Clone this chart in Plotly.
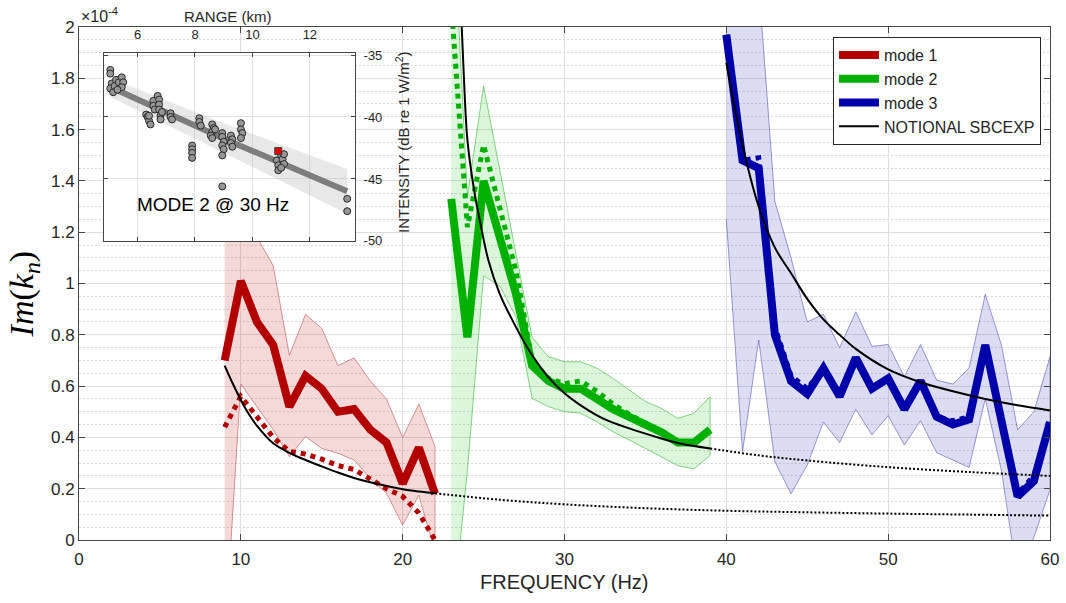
import plotly.graph_objects as go

# ---------------- main chart data ----------------
freq1 = list(range(9, 23))
mode1 = [0.70, 1.01, 0.85, 0.76, 0.52, 0.64, 0.59, 0.50, 0.51, 0.43, 0.38, 0.22, 0.36, 0.18]
mode1_dot = [0.44, 0.56, 0.48, 0.40, 0.345, 0.335, 0.315, 0.29, 0.275, 0.235, 0.20, 0.17, 0.105, 0.0]
mode1_hi = [1.45, 1.35, 1.18, 1.07, 0.72, 0.88, 0.825, 0.68, 0.71, 0.62, 0.55, 0.40, 0.53, 0.364]
mode1_lo = [-0.4, 0.608, 0.52, 0.43, 0.325, 0.403, 0.357, 0.338, 0.312, 0.24, 0.182, 0.058, 0.175, -0.05]

freq2 = list(range(23, 40))
mode2 = [1.33, 0.79, 1.40, 1.18, 0.96, 0.68, 0.62, 0.59, 0.59, 0.55, 0.51, 0.48, 0.45, 0.42, 0.38, 0.38, 0.43]
mode2_dot = [2.09, 1.22, 1.54, 1.30, 1.05, 0.70, 0.63, 0.61, 0.62, 0.58, 0.53, 0.49, 0.455, 0.42, 0.385, 0.38, 0.43]
mode2_hi = [2.6, 1.34, 1.77, 1.44, 1.12, 0.79, 0.715, 0.695, 0.695, 0.67, 0.63, 0.585, 0.54, 0.513, 0.474, 0.494, 0.559]
mode2_lo = [-0.35, 0.27, 1.03, 0.99, 0.87, 0.552, 0.52, 0.50, 0.494, 0.461, 0.422, 0.39, 0.357, 0.325, 0.29, 0.277, 0.33]

freq3 = list(range(40, 61))
mode3 = [1.97, 1.48, 1.45, 0.80, 0.62, 0.57, 0.67, 0.56, 0.71, 0.59, 0.63, 0.51, 0.62, 0.48, 0.45, 0.47, 0.76, 0.46, 0.17, 0.23, 0.46]
mode3_dot = [1.97, 1.48, 1.49, 0.83, 0.64, 0.59, 0.67, 0.56, 0.71, 0.59, 0.63, 0.51, 0.62, 0.48, 0.465, 0.48, 0.76, 0.46, 0.18, 0.25, 0.46]
mode3_hi = [2.6, 2.5, 2.17, 1.32, 1.1, 0.85, 0.88, 0.75, 0.89, 0.755, 0.762, 0.636, 0.762, 0.623, 0.608, 0.671, 0.958, 0.76, 0.43, 0.50, 0.714]
mode3_lo = [1.25, 0.344, 0.78, 0.305, 0.18, 0.292, 0.46, 0.38, 0.51, 0.41, 0.485, 0.37, 0.465, 0.34, 0.31, 0.283, 0.55, 0.27, -0.15, 0.01, 0.195]

# notional SBCEXP curves (solid in-band part, dotted extension)
not1_f = [9, 9.5, 10, 10.5, 11, 12, 13, 14, 15, 16, 17, 18, 19, 20, 21, 22]
not1_v = [0.68, 0.61, 0.546, 0.49, 0.445, 0.377, 0.34, 0.312, 0.287, 0.263, 0.242, 0.225, 0.211, 0.198, 0.189, 0.182]
ext1_f = [22, 26, 30, 35, 40, 45, 50, 55, 60]
ext1_v = [0.182, 0.157, 0.139, 0.124, 0.114, 0.108, 0.103, 0.099, 0.095]
not2_f = [23.4, 23.6, 23.8, 24, 24.4, 24.8, 25.3, 26, 27, 28, 29, 30, 31, 32.5, 34, 35.5, 37, 39]
not2_v = [2.45, 2.07, 1.78, 1.56, 1.37, 1.235, 1.09, 0.96, 0.83, 0.72, 0.635, 0.572, 0.525, 0.47, 0.435, 0.405, 0.378, 0.357]
ext2_f = [39, 42, 45, 50, 55, 60]
ext2_v = [0.357, 0.33, 0.31, 0.284, 0.265, 0.25]
not3_f = [40, 41, 42, 43, 44, 45, 46, 47, 48, 50, 52, 54, 56, 58, 60]
not3_v = [1.86, 1.54, 1.30, 1.14, 1.04, 0.94, 0.86, 0.80, 0.745, 0.665, 0.615, 0.58, 0.55, 0.525, 0.505]

# ---------------- inset data ----------------
inset_km = [5.05, 5.05, 5.1, 5.05, 5.15, 5.2, 5.25, 5.35, 5.45, 5.5, 5.45, 5.3,
            6.3, 6.35, 6.4, 6.45, 6.4, 6.55, 6.55, 6.6, 6.7, 6.75, 6.75, 6.75, 6.8, 6.8, 6.85,
            7.15, 7.15, 7.2,
            7.9, 7.9, 7.9, 7.9,
            8.15, 8.15, 8.2,
            8.6, 8.65, 8.6, 8.55, 8.6, 8.7,
            8.95, 8.95, 9.0, 8.95, 9.0, 8.95, 8.95,
            9.25, 9.3, 9.25, 9.3,
            9.6, 9.6, 9.65, 9.6,
            10.85, 10.9, 10.9, 11.0, 11.05, 11.1, 11.1, 11.0,
            13.3, 13.3]
inset_db = [-36.2, -36.5, -37.3, -37.7, -38.0, -37.5, -37.0, -37.2, -36.8, -37.2, -37.6, -37.8,
            -39.8, -40.0, -40.3, -40.6, -39.9, -38.7, -39.1, -39.4, -38.3, -38.6, -39.0, -39.4, -39.9, -40.2, -39.6,
            -39.7, -40.0, -40.2,
            -42.3, -42.6, -42.9, -43.3,
            -40.1, -40.4, -40.7,
            -40.6, -40.9, -41.2, -41.5, -41.7, -41.0,
            -41.3, -41.6, -42.0, -42.3, -42.6, -43.1, -45.6,
            -41.5, -41.8, -42.1, -42.4,
            -40.5, -41.0, -41.3, -41.7,
            -43.5, -43.9, -44.3, -43.1, -43.4, -43.0, -43.8, -44.1,
            -46.6, -47.6]
sel_km = [10.9]
sel_db = [-42.75]
fit_km = [5.07, 9.1, 13.3]
fit_db = [-37.6, -41.85, -46.0]
fit_hi = [-36.9, -40.6, -44.2]
fit_lo = [-38.4, -43.0, -47.8]

inset_xrange = [4.83, 13.57]
inset_yrange = [-50.0, -34.85]
inset_yticks = [-50, -45, -40, -35]
inset_yticktext = ["-50", "-45", "-40", "-35"]

RED = "rgb(178,0,0)"
GREEN = "rgb(0,176,0)"
BLUE = "rgb(0,0,170)"

fig = go.Figure()


def band(f, hi, lo, fill, edge):
    fig.add_trace(go.Scatter(x=f + f[::-1], y=hi + lo[::-1], fill="toself", fillcolor=fill,
                             line=dict(color=edge, width=1), mode="lines", showlegend=False,
                             hoverinfo="skip"))


band(freq1, mode1_hi, mode1_lo, "rgba(200,40,40,0.18)", "rgba(180,70,70,0.55)")
band(freq2, mode2_hi, mode2_lo, "rgba(0,190,0,0.14)", "rgba(0,160,0,0.45)")
band(freq3, mode3_hi, mode3_lo, "rgba(60,60,190,0.18)", "rgba(60,60,170,0.5)")

fig.add_trace(go.Scatter(x=freq1, y=mode1, mode="lines", line=dict(color=RED, width=8),
                         name="mode 1", legendrank=1))
fig.add_trace(go.Scatter(x=freq2, y=mode2, mode="lines", line=dict(color=GREEN, width=8),
                         name="mode 2", legendrank=2))
fig.add_trace(go.Scatter(x=freq3, y=mode3, mode="lines", line=dict(color=BLUE, width=8),
                         name="mode 3", legendrank=3))

for f, v, c in [(freq1, mode1_dot, RED), (freq2, mode2_dot, GREEN), (freq3, mode3_dot, BLUE)]:
    fig.add_trace(go.Scatter(x=f, y=v, mode="lines", line=dict(color=c, width=5, dash="dot"),
                             showlegend=False))

fig.add_trace(go.Scatter(x=not1_f, y=not1_v, mode="lines", line=dict(color="black", width=2, shape="spline"),
                         name="NOTIONAL SBCEXP", legendrank=4))
fig.add_trace(go.Scatter(x=not2_f, y=not2_v, mode="lines", line=dict(color="black", width=2, shape="spline"),
                         showlegend=False))
fig.add_trace(go.Scatter(x=not3_f, y=not3_v, mode="lines", line=dict(color="black", width=2, shape="spline"),
                         showlegend=False))
for f, v in [(ext1_f, ext1_v), (ext2_f, ext2_v)]:
    fig.add_trace(go.Scatter(x=f, y=v, mode="lines",
                             line=dict(color="black", width=2, dash="2px,2px", shape="spline"),
                             showlegend=False))

# ---------------- inset traces ----------------
fig.add_trace(go.Scatter(x=fit_km + fit_km[::-1], y=fit_hi + fit_lo[::-1], fill="toself",
                         fillcolor="rgba(190,190,190,0.35)", line=dict(width=0), mode="lines",
                         xaxis="x2", yaxis="y2", showlegend=False))
fig.add_trace(go.Scatter(x=fit_km, y=fit_db, mode="lines", line=dict(color="rgb(125,125,125)", width=6),
                         xaxis="x2", yaxis="y2", showlegend=False))
fig.add_trace(go.Scatter(x=inset_km, y=inset_db, mode="markers",
                         marker=dict(size=7, color="rgb(150,150,150)", line=dict(color="rgb(40,40,40)", width=1)),
                         xaxis="x2", yaxis="y2", showlegend=False))
fig.add_trace(go.Scatter(x=sel_km, y=sel_db, mode="markers",
                         marker=dict(size=7, symbol="square", color="rgb(230,0,0)",
                                     line=dict(color="rgb(60,60,60)", width=1)),
                         xaxis="x2", yaxis="y2", showlegend=False))

AX = "rgb(70,70,70)"
TXT = "#262626"
fig.update_layout(
    width=1066, height=603,
    margin=dict(l=79, r=16, t=27, b=63, autoexpand=False),
    paper_bgcolor="white", plot_bgcolor="white",
    font=dict(family="Liberation Sans, Arial, sans-serif", color=TXT, size=17),
    xaxis=dict(range=[0, 60], dtick=10, tick0=0, showline=True, linecolor=AX, linewidth=1,
               mirror="ticks", ticks="inside", ticklen=6, tickcolor=AX, showgrid=True,
               gridcolor="rgb(222,222,222)", zeroline=False, tickfont=dict(size=17),
               ticklabelstandoff=4, automargin=False),
    yaxis=dict(range=[0, 2], dtick=0.2, tick0=0, showline=True, linecolor=AX, linewidth=1,
               mirror="ticks", ticks="inside", ticklen=6, tickcolor=AX, showgrid=True,
               gridcolor="rgb(222,222,222)", zeroline=False, tickfont=dict(size=17), automargin=False,
               minor=dict(dtick=0.05, showgrid=True, gridcolor="rgb(215,215,215)", griddash="2px,2px",
                          ticks="")),
    xaxis2=dict(domain=[0.0257, 0.2842], anchor="y2", side="top", range=inset_xrange, dtick=2, tick0=0,
                showline=True, linecolor=AX, mirror="ticks", ticks="inside", ticklen=4, tickcolor=AX,
                showgrid=True, gridcolor="rgb(225,225,225)", zeroline=False, tickfont=dict(size=13),
                ticklabelstandoff=8, automargin=False),
    yaxis2=dict(domain=[0.583, 0.949], anchor="x2", side="right", range=inset_yrange,
                tickvals=inset_yticks, ticktext=inset_yticktext,
                showline=True, linecolor=AX, mirror="ticks", ticks="inside", ticklen=4, tickcolor=AX,
                showgrid=True, gridcolor="rgb(225,225,225)", zeroline=False, tickfont=dict(size=13),
                ticklabelstandoff=5, automargin=False),
    legend=dict(x=0.9907, xanchor="right", y=0.9805, yanchor="top", bgcolor="white",
                bordercolor=TXT, borderwidth=1, font=dict(size=16), tracegroupgap=0,
                itemwidth=40),
    shapes=[dict(type="rect", xref="x2", yref="y2", x0=inset_xrange[0], x1=inset_xrange[1],
                 y0=inset_yrange[0], y1=inset_yrange[1], fillcolor="white", line=dict(width=0),
                 layer="below")],
    annotations=[
        dict(text="FREQUENCY (Hz)", x=0.5, y=-0.082, xref="paper", yref="paper", showarrow=False,
             xanchor="center", yanchor="middle", font=dict(size=20, color=TXT)),
        dict(text="<i>Im</i>(<i>k<sub>n</sub></i>)", x=-0.057, y=0.48, xref="paper", yref="paper",
             showarrow=False, textangle=-90, xanchor="center", yanchor="middle",
             font=dict(size=34, family="Liberation Serif, Times New Roman, serif", color="black")),
        dict(text="×10<sup>-4</sup>", x=0.0, y=1.0, xref="paper", yref="paper", showarrow=False,
             xanchor="left", yanchor="bottom", font=dict(size=16, color=TXT)),
        dict(text="RANGE (km)", x=0.1535, y=1.0195, xref="paper", yref="paper", showarrow=False,
             xanchor="center", yanchor="middle", font=dict(size=15, color=TXT)),
        dict(text="INTENSITY (dB re 1 W/m<sup>2</sup>)", x=0.3337, y=0.774, xref="paper", yref="paper",
             showarrow=False, textangle=-90, xanchor="center", yanchor="middle",
             font=dict(size=15, color=TXT)),
        dict(text="MODE 2 @ 30 Hz", x=8.64, y=-47.1, xref="x2", yref="y2", showarrow=False,
             xanchor="center", yanchor="middle", font=dict(size=19, color="black")),
    ],
)

fig.write_html("out.html", config={"displayModeBar": False},
               post_script="document.body.style.margin='0px';document.body.style.overflow='hidden';")
